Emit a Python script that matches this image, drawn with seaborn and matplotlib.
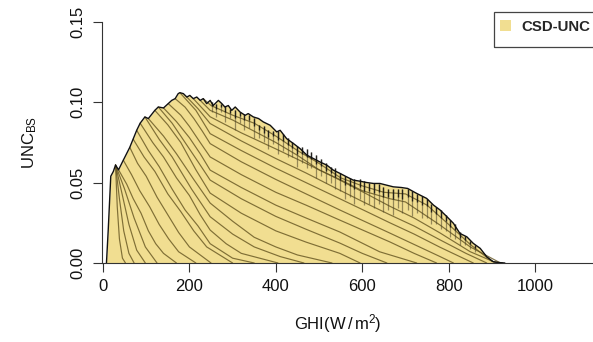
import matplotlib
matplotlib.use("Agg")
import matplotlib.pyplot as plt
import seaborn as sns
from matplotlib.patches import Patch, Rectangle

# outer envelope of the uncertainty curves (GHI vs UNC_BS)
env_x = [8, 12, 18, 24, 29, 36, 47, 62, 78, 86, 97, 105, 120, 128, 140, 151, 159, 167,
         174, 178, 186, 194, 201, 209, 217, 225, 232, 240, 248, 255, 267, 275, 282, 290,
         298, 306, 317, 329, 336, 348, 360, 371, 387, 402, 410, 425, 441, 456, 472, 487,
         502, 518, 533, 549, 564, 579, 595, 610, 626, 641, 657, 672, 690, 705, 726, 749,
         765, 780, 796, 811, 826, 842, 857, 873, 888, 903, 915, 930]
env_y = [0, 0.02, 0.054, 0.057, 0.061, 0.058, 0.064, 0.072, 0.0826, 0.087, 0.0909, 0.0899,
         0.095, 0.0971, 0.0965, 0.0992, 0.1012, 0.1023, 0.1054, 0.106, 0.1054, 0.1033,
         0.1043, 0.1023, 0.1033, 0.1012, 0.1023, 0.0992, 0.1012, 0.098, 0.1012, 0.0992,
         0.0971, 0.098, 0.095, 0.0971, 0.094, 0.0919, 0.093, 0.0909, 0.0899, 0.0878,
         0.0857, 0.0816, 0.0826, 0.0774, 0.0743, 0.0712, 0.0671, 0.065, 0.0629, 0.0609,
         0.0578, 0.0557, 0.0536, 0.0516, 0.0509, 0.0501, 0.0495, 0.0495, 0.0484, 0.0474,
         0.047, 0.0464, 0.0433, 0.0402, 0.036, 0.033, 0.0288, 0.0247, 0.0184, 0.0163,
         0.0122, 0.0091, 0.0039, 0.0008, 0.0003, 0]

# inner curves (each leaves the envelope at its first point)
c01_x = [29, 33, 38, 45, 52]
c01_y = [0.061, 0.035, 0.015, 0.003, 0]
c02_x = [29, 38, 48, 60, 72]
c02_y = [0.061, 0.04, 0.02, 0.006, 0]
c03_x = [29, 45, 60, 78, 98]
c03_y = [0.061, 0.042, 0.024, 0.008, 0]
c04_x = [29, 50, 72, 98, 125]
c04_y = [0.061, 0.046, 0.028, 0.01, 0]
c05_x = [36, 55, 70, 88, 105, 122, 140, 170]
c05_y = [0.058, 0.049, 0.04, 0.031, 0.02, 0.012, 0.006, 0]
c06_x = [47, 66, 85, 108, 130, 152, 175, 215]
c06_y = [0.064, 0.055, 0.045, 0.035, 0.024, 0.015, 0.007, 0]
c07_x = [62, 80, 100, 125, 150, 175, 200, 250]
c07_y = [0.072, 0.062, 0.054, 0.041, 0.03, 0.019, 0.01, 0]
c08_x = [70, 95, 120, 150, 180, 210, 240, 300]
c08_y = [0.077, 0.066, 0.057, 0.043, 0.032, 0.02, 0.01, 0]
c09_x = [78, 105, 130, 160, 190, 220, 248, 300, 350]
c09_y = [0.0826, 0.07, 0.06, 0.046, 0.033, 0.023, 0.012, 0.003, 0]
c10_x = [86, 115, 140, 170, 200, 225, 248, 285, 320, 405]
c10_y = [0.087, 0.075, 0.066, 0.053, 0.042, 0.03, 0.0205, 0.012, 0.006, 0]
c11_x = [97, 130, 160, 205, 248, 300, 350, 410, 465]
c11_y = [0.0909, 0.077, 0.066, 0.046, 0.0288, 0.018, 0.01, 0.004, 0]
c12_x = [105, 140, 170, 210, 248, 300, 350, 400, 450, 530]
c12_y = [0.0899, 0.079, 0.068, 0.052, 0.0373, 0.026, 0.016, 0.01, 0.005, 0]
c13_x = [120, 150, 180, 215, 248, 320, 400, 470, 548, 595]
c13_y = [0.095, 0.086, 0.075, 0.058, 0.0435, 0.031, 0.02, 0.013, 0.006, 0]
c14_x = [128, 160, 190, 220, 248, 320, 400, 470, 548, 600, 657]
c14_y = [0.0971, 0.087, 0.075, 0.063, 0.0516, 0.04, 0.029, 0.021, 0.0124, 0.006, 0]
c15_x = [140, 170, 200, 225, 248, 320, 400, 470, 548, 640, 726]
c15_y = [0.0965, 0.088, 0.078, 0.068, 0.0578, 0.047, 0.036, 0.028, 0.0193, 0.007, 0]
c16_x = [151, 180, 200, 225, 248, 320, 400, 470, 548, 664, 720, 772]
c16_y = [0.0992, 0.092, 0.085, 0.075, 0.066, 0.055, 0.044, 0.036, 0.0267, 0.0131, 0.006, 0]
c17_x = [167, 190, 210, 230, 248, 320, 400, 470, 548, 664, 780, 811]
c17_y = [0.1023, 0.097, 0.09, 0.082, 0.0743, 0.063, 0.052, 0.043, 0.033, 0.0186, 0.004, 0]
c18_x = [178, 215, 248, 320, 400, 470, 548, 610, 664, 720, 780, 857]
c18_y = [0.106, 0.095, 0.0805, 0.07, 0.059, 0.05, 0.04, 0.032, 0.025, 0.018, 0.0098, 0]
c19_x = [194, 220, 248, 320, 400, 470, 548, 610, 664, 720, 780, 840, 888]
c19_y = [0.1033, 0.096, 0.0868, 0.076, 0.065, 0.056, 0.0453, 0.037, 0.03, 0.023, 0.0144,
         0.006, 0]
c20_x = [209, 248, 320, 400, 470, 548, 610, 664, 720, 780, 850, 911]
c20_y = [0.1023, 0.091, 0.081, 0.071, 0.062, 0.0516, 0.043, 0.0353, 0.028, 0.0187, 0.007, 0]
c21_x = [225, 248, 300, 350, 400, 450, 500, 548, 600, 664, 700, 780, 850, 920]
c21_y = [0.1012, 0.095, 0.089, 0.082, 0.075, 0.067, 0.058, 0.052, 0.045, 0.04, 0.038,
         0.0236, 0.01, 0]
c22_x = [232, 250, 300, 350, 400, 450, 500, 550, 600, 650, 700, 750, 800, 850, 900, 925]
c22_y = [0.1023, 0.098, 0.092, 0.087, 0.079, 0.07, 0.062, 0.053, 0.048, 0.044, 0.043,
         0.036, 0.024, 0.0115, 0.001, 0]

curves = [(c01_x, c01_y), (c02_x, c02_y), (c03_x, c03_y), (c04_x, c04_y), (c05_x, c05_y),
          (c06_x, c06_y), (c07_x, c07_y), (c08_x, c08_y), (c09_x, c09_y), (c10_x, c10_y),
          (c11_x, c11_y), (c12_x, c12_y), (c13_x, c13_y), (c14_x, c14_y), (c15_x, c15_y),
          (c16_x, c16_y), (c17_x, c17_y), (c18_x, c18_y), (c19_x, c19_y), (c20_x, c20_y),
          (c21_x, c21_y), (c22_x, c22_y)]

# narrow dips along the top edge
notch_x = [252, 262, 272, 283, 294, 305, 316, 327, 338, 350, 361, 372, 383, 394, 405, 416,
           427, 438, 449, 460, 471, 482, 493, 504, 515, 527, 538, 549, 560, 571, 582, 594,
           605, 616, 627, 638, 649, 660, 671, 682, 693, 705, 716, 727, 738, 749, 760, 771,
           782, 793, 804, 815, 826, 838, 850, 862]
notch_top = [0.100, 0.099, 0.099, 0.098, 0.096, 0.095, 0.094, 0.093, 0.092, 0.090, 0.086,
             0.085, 0.083, 0.082, 0.082, 0.080, 0.078, 0.075, 0.073, 0.072, 0.071, 0.069,
             0.067, 0.065, 0.062, 0.060, 0.059, 0.056, 0.054, 0.053, 0.052, 0.052, 0.051,
             0.050, 0.050, 0.049, 0.047, 0.046, 0.046, 0.046, 0.046, 0.046, 0.045, 0.043,
             0.042, 0.040, 0.037, 0.035, 0.033, 0.030, 0.027, 0.024, 0.019, 0.017, 0.014,
             0.011]
notch_depth = [0.006, 0.008, 0.005, 0.010, 0.006, 0.012, 0.007, 0.010, 0.008, 0.012, 0.008,
               0.010, 0.012, 0.008, 0.014, 0.010, 0.012, 0.009, 0.013, 0.010, 0.012, 0.010,
               0.014, 0.011, 0.012, 0.010, 0.013, 0.011, 0.014, 0.012, 0.015, 0.012, 0.015,
               0.013, 0.016, 0.012, 0.015, 0.013, 0.016, 0.012, 0.015, 0.013, 0.016, 0.012,
               0.014, 0.012, 0.013, 0.011, 0.012, 0.010, 0.011, 0.009, 0.008, 0.006, 0.005,
               0.004]

x_ticks = [0, 200, 400, 600, 800, 1000]
y_ticks = [0.00, 0.05, 0.10, 0.15]

fill_col = '#F1DE91'
line_col = '#63531f'

sns.set_style("ticks")
plt.rcParams['font.family'] = ['Liberation Sans', 'DejaVu Sans']
plt.rcParams['mathtext.fontset'] = 'custom'
plt.rcParams['mathtext.rm'] = 'Liberation Sans'
plt.rcParams['mathtext.it'] = 'Liberation Sans:italic'

fig = plt.figure(figsize=(5.93, 3.42), dpi=100)
ax = fig.add_axes([0.1715, 0.231, 0.8285, 0.7047])

# filled area, then every curve outline on top
ax.fill_between(env_x, env_y, 0, color=fill_col, lw=0)
for cx, cy in curves:
    sns.lineplot(x=cx, y=cy, ax=ax, color=line_col, lw=0.85, alpha=0.8,
                 estimator=None, sort=False)
notch_bot = [t - d for t, d in zip(notch_top, notch_depth)]
notch_mid = [t - 0.4 * d for t, d in zip(notch_top, notch_depth)]
ax.vlines(notch_x, notch_bot, notch_top, colors='#4a4228', lw=0.9, alpha=0.55)
ax.vlines(notch_x, notch_mid, notch_top, colors='#111111', lw=1.0, alpha=0.85)
sns.lineplot(x=env_x, y=env_y, ax=ax, color='#111111', lw=1.0,
             estimator=None, sort=False)

ax.set_xlim(-3, 1134)
ax.set_ylim(0, 0.15)
ax.set_xticks(x_ticks)
ax.set_yticks(y_ticks)
ax.set_xticklabels([str(v) for v in x_ticks], fontsize=12)
ax.set_yticklabels(['%.2f' % v for v in y_ticks], fontsize=12, rotation=90, va='center')
ax.tick_params(direction='out', length=6.5, width=0.8, color='#333333', pad=5,
               labelcolor='#111111')

for side in ['top', 'right']:
    ax.spines[side].set_visible(False)
for side in ['left', 'bottom']:
    ax.spines[side].set_color('#333333')
    ax.spines[side].set_linewidth(0.8)

ax.set_xlabel(r'GHI(W$\,/\,$m$^{2}$)', fontsize=12, color='#111111')
ax.xaxis.set_label_coords(0.481, -0.205)
ax.set_ylabel(r'UNC$_{\mathregular{BS}}$', fontsize=12, color='#111111')
ax.yaxis.set_label_coords(-0.128, 0.5)

# legend box runs off the right edge, as in the original
fig.add_artist(Rectangle((494 / 593, 1 - 47 / 342), 130 / 593, 35 / 342,
                         transform=fig.transFigure, fill=False, edgecolor='#444444',
                         lw=0.9, clip_on=False))
legend_items = [Patch(facecolor=fill_col, edgecolor='none', label='CSD-UNC')]
leg = ax.legend(handles=legend_items, loc='upper left', bbox_to_anchor=(500 / 593, 1 - 20 / 342),
                bbox_transform=fig.transFigure, frameon=False,
                prop={'weight': 'bold', 'size': 10.8}, handlelength=0.75, handleheight=0.75,
                handletextpad=0.65, borderpad=0.0, borderaxespad=0.0)

fig.savefig('out.png', dpi=100)
